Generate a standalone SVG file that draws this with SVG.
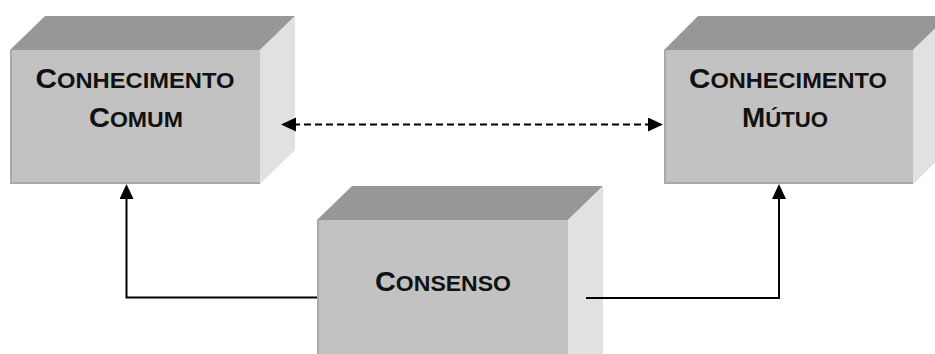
<svg xmlns="http://www.w3.org/2000/svg" width="935" height="354" viewBox="0 0 935 354">
<defs>
<style>
.top{fill:#979797}
.front{fill:#c2c2c2}
.side{fill:#e1e1e1}
.edge{fill:none;stroke:#a9a9a9;stroke-width:2}
.lbl{font-family:"Liberation Sans",Arial,sans-serif;font-weight:bold;fill:#111;text-anchor:middle}
.big{font-size:27px}
.sm{font-size:21.5px}
.conn{fill:none;stroke:#000;stroke-width:2}
.dash{stroke-dasharray:7 4}
</style>
<marker id="ah" markerUnits="userSpaceOnUse" markerWidth="16" markerHeight="15" refX="3" refY="7" orient="auto-start-reverse" viewBox="0 0 16 15">
<path d="M0,0 L15,7 L0,14 z" fill="#000"/>
</marker>
</defs>
<rect width="935" height="354" fill="#fff"/>
<g id="node-conhecimento-comum">
<polygon class="top" points="10,50 45,16 295,16 260,50"/>
<polygon class="side" points="260,50 295,16 295,150 260,184"/>
<rect class="front" x="10" y="50" width="250" height="134"/>
<polyline class="edge" points="11,50 11,183 260,183"/>
<text class="lbl" x="135" y="88" textLength="199" lengthAdjust="spacingAndGlyphs"><tspan class="big">C</tspan><tspan class="sm">ONHECIMENTO</tspan></text>
<text class="lbl" x="136" y="127" textLength="94" lengthAdjust="spacingAndGlyphs"><tspan class="big">C</tspan><tspan class="sm">OMUM</tspan></text>
</g>
<g id="node-conhecimento-mutuo">
<polygon class="top" points="664,50 698,16 948,16 913,50"/>
<polygon class="side" points="913,50 948,16 948,150 913,184"/>
<rect class="front" x="664" y="50" width="249" height="134"/>
<polyline class="edge" points="665,50 665,183 913,183"/>
<text class="lbl" x="788" y="88" textLength="198" lengthAdjust="spacingAndGlyphs"><tspan class="big">C</tspan><tspan class="sm">ONHECIMENTO</tspan></text>
<text class="lbl" x="785" y="127" textLength="86" lengthAdjust="spacingAndGlyphs"><tspan class="big">M</tspan><tspan class="sm">ÚTUO</tspan></text>
</g>
<g id="node-consenso">
<polygon class="top" points="317,220 352,186 603,186 568,220"/>
<polygon class="side" points="568,220 603,186 603,360 568,360"/>
<rect class="front" x="317" y="220" width="251" height="140"/>
<line class="edge" x1="318" y1="220" x2="318" y2="360"/>
<text class="lbl" x="443" y="291" textLength="136" lengthAdjust="spacingAndGlyphs"><tspan class="big">C</tspan><tspan class="sm">ONSENSO</tspan></text>
</g>
<g id="connectors">
<line class="conn dash" x1="293" y1="124.5" x2="651" y2="124.5" marker-start="url(#ah)" marker-end="url(#ah)"/>
<polyline class="conn" points="317,297.5 126.5,297.5 126.5,196" marker-end="url(#ah)"/>
<polyline class="conn" points="586,298 779,298 779,196" marker-end="url(#ah)"/>
</g>
</svg>
